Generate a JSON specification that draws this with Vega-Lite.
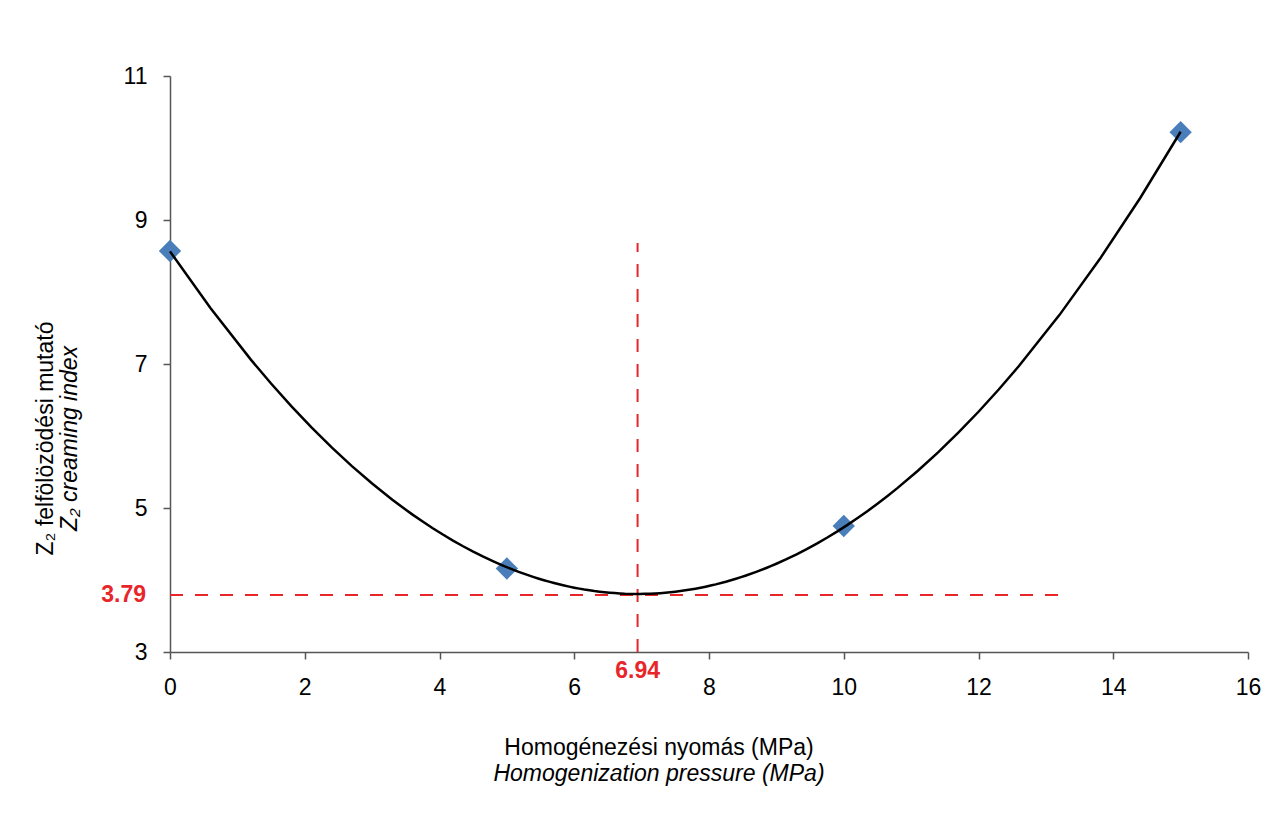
{
  "$schema": "https://vega.github.io/schema/vega-lite/v6.json",
  "width": 1078,
  "height": 576,
  "autosize": "none",
  "padding": {"left": 170, "top": 76, "right": 36, "bottom": 182},
  "background": "white",
  "config": {
    "view": {"stroke": null},
    "font": "Liberation Sans",
    "axis": {
      "domainColor": "#555555",
      "tickColor": "#555555",
      "domainWidth": 1.5,
      "tickWidth": 1.5,
      "tickSize": 7,
      "labelFont": "Liberation Sans",
      "labelFontSize": 23,
      "labelColor": "black",
      "labelFlush": false,
      "grid": false,
      "titleFont": "Liberation Sans",
      "titleFontSize": 23,
      "titleFontWeight": "normal",
      "titleColor": "black"
    }
  },
  "title": {
    "text": "Homogénezési nyomás (MPa)",
    "subtitle": "Homogenization pressure (MPa)",
    "orient": "bottom",
    "anchor": "middle",
    "font": "Liberation Sans",
    "fontSize": 23,
    "fontWeight": "normal",
    "color": "black",
    "subtitleFont": "Liberation Sans",
    "subtitleFontSize": 23,
    "subtitleFontStyle": "italic",
    "subtitleColor": "black",
    "subtitlePadding": 3,
    "offset": 38,
    "dx": -50
  },
  "datasets": {
    "points": [
      {"x": 0, "y": 8.57},
      {"x": 5, "y": 4.16},
      {"x": 10, "y": 4.75},
      {"x": 15, "y": 10.22}
    ],
    "hline": [{"x": 0, "y": 3.79}, {"x": 13.18, "y": 3.79}],
    "vline": [{"x": 6.94, "y": 3}, {"x": 6.94, "y": 8.68}],
    "ylab": [{"x": 0, "y": 3.79, "label": "3.79"}],
    "xlab": [{"x": 6.94, "y": 3, "label": "6.94"}]
  },
  "resolve": {"scale": {"y": "independent"}},
  "layer": [
    {
      "data": {"name": "hline"},
      "mark": {"type": "line", "color": "#e8262a", "strokeWidth": 2, "strokeDash": [13, 12]},
      "encoding": {
        "x": {"field": "x", "type": "quantitative", "scale": {"domain": [0, 16]},
          "axis": {"title": null, "values": [0, 2, 4, 6, 8, 10, 12, 14, 16], "format": "d", "labelPadding": 17, "labelFlush": false}},
        "y": {"field": "y", "type": "quantitative", "scale": {"domain": [3, 11]},
          "axis": {"orient": "left", "title": "Z₂ felfölözödési mutató", "labels": false, "ticks": false, "domain": false,
            "titleAngle": -90, "titleX": -125, "titleY": 362, "titleAlign": "center", "titleBaseline": "middle"}}
      }
    },
    {
      "data": {"name": "vline"},
      "mark": {"type": "line", "color": "#e8262a", "strokeWidth": 2, "strokeDash": [13, 12]},
      "encoding": {
        "x": {"field": "x", "type": "quantitative", "scale": {"domain": [0, 16]}, "axis": {"title": null}},
        "y": {"field": "y", "type": "quantitative", "scale": {"domain": [3, 11]}, "axis": null}
      }
    },
    {
      "data": {"name": "points"},
      "mark": {"type": "point", "shape": "diamond", "filled": true, "color": "#4a7ebb", "size": 500, "opacity": 1},
      "encoding": {
        "x": {"field": "x", "type": "quantitative", "scale": {"domain": [0, 16]}, "axis": {"title": null}},
        "y": {"field": "y", "type": "quantitative", "scale": {"domain": [3, 11]},
          "axis": {"orient": "left", "title": "Z₂ creaming index", "titleFontStyle": "italic",
            "values": [3, 5, 7, 9, 11], "format": "d", "labelPadding": 16, "labelFlush": false,
            "titleAngle": -90, "titleX": -101, "titleY": 362, "titleAlign": "center", "titleBaseline": "middle"}}
      }
    },
    {
      "data": {"name": "points"},
      "transform": [
        {"regression": "y", "on": "x", "method": "poly", "order": 2, "extent": [0, 15]}
      ],
      "mark": {"type": "line", "color": "black", "strokeWidth": 2.5},
      "encoding": {
        "x": {"field": "x", "type": "quantitative", "scale": {"domain": [0, 16]}, "axis": {"title": null}},
        "y": {"field": "y", "type": "quantitative", "scale": {"domain": [3, 11]}, "axis": null}
      }
    },
    {
      "data": {"name": "ylab"},
      "mark": {"type": "text", "color": "#e8262a", "fontWeight": "bold", "fontSize": 23, "font": "Liberation Sans", "align": "right", "baseline": "middle", "dx": -24},
      "encoding": {
        "x": {"field": "x", "type": "quantitative", "scale": {"domain": [0, 16]}, "axis": {"title": null}},
        "y": {"field": "y", "type": "quantitative", "scale": {"domain": [3, 11]}, "axis": null},
        "text": {"field": "label"}
      }
    },
    {
      "data": {"name": "xlab"},
      "mark": {"type": "text", "color": "#e8262a", "fontWeight": "bold", "fontSize": 23, "font": "Liberation Sans", "align": "center", "baseline": "middle", "dy": 19},
      "encoding": {
        "x": {"field": "x", "type": "quantitative", "scale": {"domain": [0, 16]}, "axis": {"title": null}},
        "y": {"field": "y", "type": "quantitative", "scale": {"domain": [3, 11]}, "axis": null},
        "text": {"field": "label"}
      }
    }
  ]
}
